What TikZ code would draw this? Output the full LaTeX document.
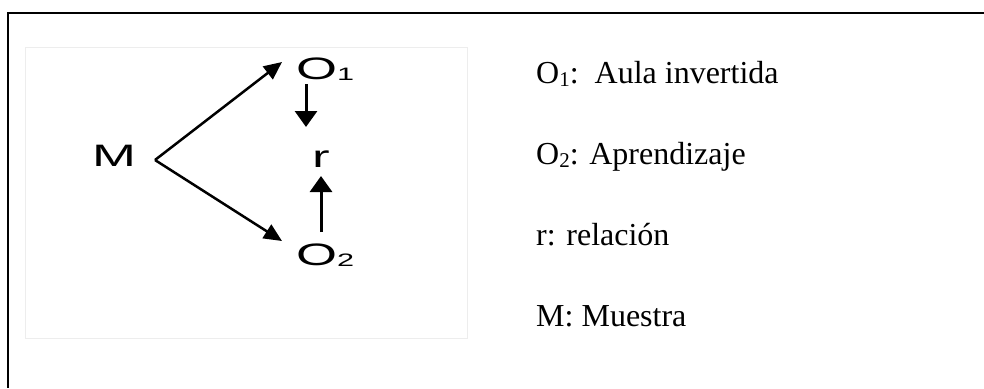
\documentclass[tikz,border=0pt]{standalone}
\usepackage{fontspec}
\setmainfont{Liberation Serif}
\newfontfamily\diagfont{Liberation Sans}
\usetikzlibrary{arrows.meta}
\newcommand{\wide}[1]{\scalebox{1.7}[1]{#1}}
\tikzset{
  frameline/.style={line width=2.5pt, black},
  innerbox/.style={draw=black!7, line width=1pt},
  dlabel/.style={inner sep=0pt, anchor=base west, font=\diagfont\fontsize{31}{31}\selectfont},
  legend/.style={inner sep=0pt, anchor=base west, font=\fontsize{32}{32}\selectfont},
  varr/.style={line width=3pt, -{Triangle[length=16pt,width=22pt]}},
  darr/.style={line width=2.5pt, -{Triangle[length=18pt,width=16pt]}}
}
\newcommand{\dsub}[1]{\raisebox{-1pt}{\fontsize{18}{18}\selectfont #1}}
\newcommand{\lsub}[1]{\raisebox{-3pt}{\fontsize{21}{21}\selectfont #1}}
\begin{document}
\begin{tikzpicture}[x=1pt,y=-1pt]
\useasboundingbox (0,0) rectangle (984,388);
\fill[white] (0,0) rectangle (984,388);
% outer frame (open at right and bottom)
\draw[frameline] (984,13) -- (8,13) -- (8,388);
% faint inner box
\draw[innerbox] (25,47) rectangle (467,338);
% diagram
\node[dlabel] (M) at (92,166) {\wide{M}};
\node[dlabel] (O1) at (296,79) {\wide{O\dsub{1}}};
\node[dlabel] (O2) at (296,265) {\wide{O\dsub{2}}};
\node[dlabel] (r) at (312,167) {\wide{r}};
\coordinate (v) at (155,160);
\draw[darr] (v) -- ([xshift=-14pt,yshift=17pt]O1.base west);
\draw[darr] (v) -- ([xshift=-14pt,yshift=24pt]O2.base west);
\draw[varr] ([xshift=10pt,yshift=-5pt]O1.base west) -- ([xshift=-6pt,yshift=40pt]r.base west);
\draw[varr] ([xshift=25pt,yshift=33pt]O2.base west) -- ([xshift=9pt,yshift=-9pt]r.base west);
% legend
\node[legend] (L1) at (536,83) {O\lsub{1}:\ \ Aula invertida};
\node[legend] (L2) at (536,164) {O\lsub{2}: Aprendizaje};
\node[legend] (L3) at (536,245) {r: relación};
\node[legend] (L4) at (536,326) {M: Muestra};
\end{tikzpicture}
\end{document}
